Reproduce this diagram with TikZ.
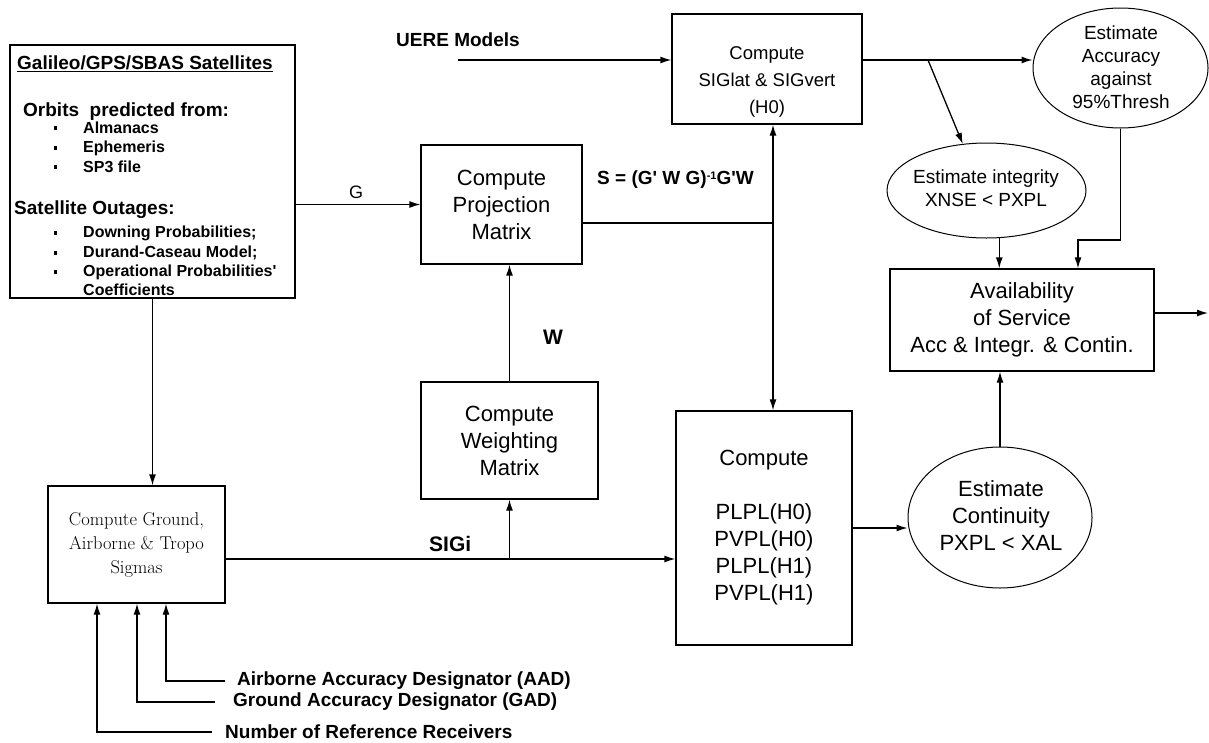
\documentclass[tikz,border=0pt]{standalone}
\usepackage{fontspec}
\newfontfamily\arial{Liberation Sans}
\usetikzlibrary{arrows.meta,shapes.geometric,calc}
\begin{document}
\begin{tikzpicture}[x=1pt,y=-1pt,
  box/.style={draw,line width=1.3pt,inner sep=0pt,align=center,font=\arial\fontsize{22}{27}\selectfont},
  ell/.style={draw,ellipse,line width=1pt,inner sep=0pt},
  etxt/.style={inner sep=0pt,align=center,font=\arial\fontsize{19}{23}\selectfont},
  arr/.style={line width=1.3pt,-{Latex[length=11pt,width=7pt]}},
  ln/.style={line width=1.3pt},
  lbl/.style={inner sep=0pt,anchor=west,font=\arial\bfseries\fontsize{19}{23}\selectfont},
  satitem/.style={inner sep=0pt,anchor=west,font=\arial\bfseries\fontsize{16}{19}\selectfont}
]
\useasboundingbox (0,0) rectangle (1209,742);

% satellites box
\node[box,line width=1.5pt,minimum width=285pt,minimum height=253pt] (sat) at (152.5,171.5) {};
\node[lbl] (s1) at (17,64) {\underline{Galileo/GPS/SBAS Satellites}};
\node[lbl] (s2) at (23,112) {Orbits\ \ predicted from:};
\node[satitem] (s3) at (83,128) {Almanacs};
\node[satitem] (s4) at (83,148) {Ephemeris};
\node[satitem] (s5) at (83,167) {SP3 file};
\node[lbl] (s6) at (14,210) {Satellite Outages:};
\node[satitem] (s7) at (83,233) {Downing Probabilities;};
\node[satitem] (s8) at (83,253) {Durand-Caseau Model;};
\node[satitem] (s9) at (83,272) {Operational Probabilities'};
\node[satitem] (s10) at (83,290) {Coefficients};
\foreach \yy in {128,148,167,233,253,272} \fill (53.5,\yy-1.75) rectangle ++(3.5,3.5);

% boxes
\node[box,minimum width=161pt,minimum height=119pt] (proj) at (501.5,204.5) {Compute\\Projection\\Matrix};
\node[box,minimum width=177pt,minimum height=117pt] (weight) at (509.5,440.5) {Compute\\Weighting\\Matrix};
\node[box,minimum width=190pt,minimum height=110pt] (sig) at (767,69) {};
\node[inner sep=0pt,align=center,font=\arial\fontsize{18.5}{27}\selectfont] (sigt) at (767,82) {Compute\\SIGlat \& SIGvert\\(H0)};
\node[box,minimum width=176pt,minimum height=234pt] (plpl) at (764,528) {Compute\\[27pt]PLPL(H0)\\PVPL(H0)\\PLPL(H1)\\PVPL(H1)};
\node[box,minimum width=264pt,minimum height=102pt] (avail) at (1022,320) {Availability\\of Service\\Acc \& Integr. \& Contin.};
\node[box,minimum width=177pt,minimum height=117pt,font=\rmfamily\fontsize{18.5}{24}\selectfont] (ground) at (136.5,544.5) {Compute Ground,\\Airborne \& Tropo\\Sigmas};

% ellipses
\node[ell,minimum width=175pt,minimum height=120pt] (acc) at (1120.5,68) {};
\node[etxt] (acct) at (1121,67) {Estimate\\Accuracy\\against\\95\%Thresh};
\node[ell,minimum width=199pt,minimum height=95pt] (integ) at (986.5,190.5) {};
\node[etxt] (integt) at (986,188.5) {Estimate integrity\\XNSE < PXPL};
\node[ell,minimum width=184pt,minimum height=141pt] (cont) at (1000,517.5) {};
\node[etxt,font=\arial\fontsize{22}{27}\selectfont] (contt) at (1001,516) {Estimate\\Continuity\\PXPL < XAL};

% labels
\node[lbl] (uere) at (396,40) {UERE Models};
\node[lbl] (sform) at (597,180) {S = (G' W G)\raisebox{5pt}{\fontsize{11}{11}\selectfont -1}G'W};
\node[lbl,font=\arial\bfseries\fontsize{21}{25}\selectfont] (wl) at (543,337) {W};
\node[lbl,font=\arial\bfseries\fontsize{21}{25}\selectfont] (sigi) at (429,544) {SIGi};
\node[lbl,font=\arial\fontsize{18}{22}\selectfont] (gl) at (349,192) {G};
\node[lbl] (aad) at (237,681) {Airborne Accuracy Designator (AAD)};
\node[lbl] (gad) at (233,702) {Ground Accuracy Designator (GAD)};
\node[lbl] (nrr) at (225,732) {Number of Reference Receivers};

% coordinates
\coordinate (uin) at (458,60);
\coordinate (br) at (928,60);
\coordinate (jx) at (773,223);
\coordinate (sy) at (0,559);
\coordinate (ac) at (1078,240);
\coordinate (out) at (1208,313);

% connectors
\draw[arr] (uin) -- (uin -| sig.west);
\draw[arr] (sig.east |- uin) -- (acc.west |- uin);
\draw[arr] (br) -- (integ.117);
\draw[arr] (integ.-75) -- (integ.-75 |- avail.north);
\draw[arr] (acc.south) |- (ac) -- (ac |- avail.north);
\draw[arr] (cont.north) -- (cont.north |- avail.south);
\draw[arr] (avail.east |- out) -- (out);
\draw[arr] (plpl.east) -- (plpl.east -| cont.west);
\draw[arr] (sat.east |- proj.west) -- (proj.west);
\draw[arr] (sat.south) -- (sat.south |- ground.north);
\draw[arr] (weight.north) -- (weight.north |- proj.south);
\draw[arr] (ground.east |- sy) -- (plpl.west |- sy);
\draw[arr] (weight.south |- sy) -- (weight.south);
\draw[ln] (proj.east |- jx) -- (jx);
\draw[arr] (jx) -- (jx |- sig.south);
\draw[arr] (jx) -- (jx |- plpl.north);
\draw[arr] ([xshift=-12pt]aad.west) -| ([xshift=29.5pt]ground.south);
\draw[arr] ([xshift=-18pt]gad.west) -| ([xshift=0.5pt]ground.south);
\draw[arr] ([xshift=-13pt]nrr.west) -| ([xshift=-39.5pt]ground.south);
\end{tikzpicture}
\end{document}
